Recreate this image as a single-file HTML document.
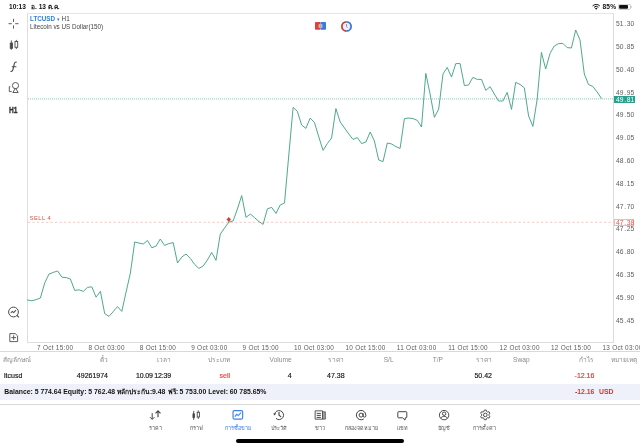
<!DOCTYPE html>
<html lang="th"><head><meta charset="utf-8"><title>LTCUSD</title>
<style>
html,body{margin:0;padding:0;background:#fff;}
body{width:640px;height:447px;overflow:hidden;position:relative;font-family:"Liberation Sans","Noto Sans CJK SC",sans-serif;color:#111;}
.abs{position:absolute;white-space:nowrap;}
.sb{position:absolute;top:2.5px;font-size:6.6px;font-weight:bold;line-height:8px;white-space:nowrap;color:#111;}
.pl i,.pb i{font-style:normal;margin:0 0.7px}
.pl{position:absolute;left:616px;font-size:6.7px;line-height:8px;letter-spacing:0.05px;color:#5c5c5c;white-space:nowrap;}
.tl{position:absolute;top:344.0px;font-size:6.4px;line-height:8px;letter-spacing:0.3px;color:#5c5c5c;white-space:nowrap;}
.th{position:absolute;top:354.5px;font-size:6.6px;line-height:9px;color:#8a8a8e;white-space:nowrap;}
.td{position:absolute;top:370.6px;font-size:7.0px;-webkit-text-stroke:0.15px currentColor;line-height:9px;color:#111;white-space:nowrap;}
.r{text-align:right;}
.bal{position:absolute;top:386.7px;font-size:6.85px;line-height:9px;font-weight:bold;color:#111;white-space:nowrap;}
.tab{position:absolute;top:409.1px;width:60px;text-align:center;}
.tab svg{display:block;margin:0 auto;}
.tlab{font-size:5.4px;line-height:8px;margin:2.6px auto 0;white-space:nowrap;overflow:hidden;text-align:center;}
</style></head><body>
<!-- status bar -->
<div class="sb" style="left:9px">10:13</div>
<div class="sb" style="left:31px;width:29.5px;overflow:hidden">อ. 13 ต.ค.</div>
<svg class="abs" style="left:592.3px;top:3.6px" width="8.4" height="6" viewBox="0 0 11 7.8"><path d="M5.5 7.6L3.9 5.7a2.3 2.3 0 0 1 3.2 0z" fill="#111"/><path d="M2.6 4.3a4.1 4.1 0 0 1 5.8 0" fill="none" stroke="#111" stroke-width="1.3"/><path d="M0.8 2.5a6.6 6.6 0 0 1 9.4 0" fill="none" stroke="#111" stroke-width="1.3"/></svg>
<div class="sb" style="left:602.5px;letter-spacing:0.150px">85%</div>
<svg class="abs" style="left:617.6px;top:3.9px" width="14.4" height="5.8" viewBox="0 0 14.4 5.8"><rect x="0.3" y="0.3" width="12.2" height="5.2" rx="1.5" fill="none" stroke="#999" stroke-width="0.5"/><rect x="1.1" y="1.050" width="8.9" height="3.7" rx="0.9" fill="#111"/><path d="M13 1.9v2c.7-.2.7-1.8 0-2z" fill="#999"/></svg>

<!-- chart frame -->
<div class="abs" style="left:27px;top:13px;width:587px;height:329.5px;border:0.8px solid #dedee1;border-top-color:#e6e6e6;box-sizing:border-box;border-right:1.3px solid #dcdcdc"></div>
<svg class="abs" style="left:0;top:0" width="640" height="447" viewBox="0 0 640 447">
<line x1="28" y1="98.9" x2="614" y2="98.9" stroke="#6dbfa9" stroke-width="0.8" stroke-dasharray="1 1"/>
<line x1="28" y1="222.3" x2="614" y2="222.3" stroke="#eeb0aa" stroke-width="0.7" stroke-dasharray="2.2 2.3"/>
<polyline points="27.6,300.0 31.9,300.8 36.2,299.6 40.4,298.0 44.7,283.0 49.0,274.0 53.3,272.4 57.6,271.0 61.9,277.2 66.1,277.6 70.4,279.0 74.7,290.4 79.0,289.8 83.3,291.4 87.5,287.4 91.8,286.8 96.1,297.2 100.4,291.4 104.7,313.6 109.0,316.4 113.2,311.6 117.5,306.6 121.8,311.4 126.1,292.0 130.4,273.0 134.7,242.0 138.9,243.0 143.2,244.0 147.5,240.5 151.8,247.8 156.1,246.0 160.3,239.0 164.6,245.4 168.9,243.6 173.2,242.6 177.5,263.0 181.8,257.0 186.0,254.0 190.3,258.4 194.6,264.4 198.9,268.4 203.2,266.0 207.4,260.0 211.7,252.4 216.0,260.4 220.3,234.0 224.6,228.0 228.9,222.0 233.1,221.0 237.4,209.0 241.7,195.6 246.0,217.4 250.3,214.0 254.5,217.6 258.8,221.4 263.1,224.4 267.4,208.8 271.7,207.4 276.0,213.4 280.2,205.0 284.5,203.0 288.8,155.0 293.1,107.4 297.4,111.4 301.6,125.0 305.9,128.4 310.2,118.0 314.5,122.6 318.8,137.0 323.1,150.4 327.3,143.6 331.6,138.0 335.9,108.6 340.2,122.0 344.5,128.0 348.8,134.0 353.0,139.4 357.3,137.6 361.6,143.6 365.9,142.0 370.2,132.0 374.4,141.0 378.7,160.0 383.0,161.6 387.3,143.0 391.6,144.0 395.9,146.6 400.1,148.4 404.4,118.6 408.7,118.0 413.0,118.6 417.3,120.4 421.5,127.0 425.8,73.4 430.1,94.0 434.4,117.4 438.7,109.0 443.0,74.0 447.2,67.4 451.5,77.0 455.8,63.6 460.1,63.6 464.4,85.6 468.6,85.0 472.9,77.4 477.2,79.4 481.5,79.4 485.8,90.4 490.1,86.6 494.3,94.0 498.6,101.0 502.9,101.0 507.2,92.4 511.5,109.4 515.7,82.4 520.0,84.4 524.3,87.8 528.6,116.0 532.9,126.4 537.2,99.0 541.4,52.4 545.7,69.0 550.0,53.5 554.3,46.0 558.6,43.6 562.9,43.4 567.1,47.6 571.4,48.0 575.7,30.0 580.0,40.0 584.3,74.0 588.5,84.5 592.8,86.4 597.1,92.0 601.4,98.3" fill="none" stroke="#46a388" stroke-width="0.950" stroke-linejoin="round" stroke-linecap="round"/>
<path d="M228.8 217.3l1.9 2.2-1.9 2.2-1.9-2.2z" fill="#d83a2b" stroke="#d83a2b" stroke-width="0.5" stroke-linejoin="round"/>
</svg>
<div class="abs" style="left:30px;top:15px;font-size:6.3px;line-height:8px;color:#444"><span style="color:#2f7de1;font-weight:bold">LTCUSD</span> <span style="color:#2f7de1;font-size:5px;position:relative;top:-0.5px">▾</span> H1</div>
<div class="abs" style="left:30px;top:23px;font-size:6.3px;line-height:8px;color:#444">Litecoin vs US Dollar(150)</div>
<div class="abs" style="left:29.5px;top:215px;font-size:5.9px;line-height:7px;letter-spacing:0.450px;color:#d9544a">SELL 4</div>

<!-- top icons -->
<svg class="abs" style="left:314px;top:21px" width="13" height="10" viewBox="0 0 13 10"><rect x="1" y="1" width="5.5" height="7.8" rx="0.7" fill="#d9453d"/><rect x="6.5" y="1" width="5.5" height="7.8" rx="0.7" fill="#3a7bd5"/><path d="M6.5 2.7a2.2 2.2 0 0 0 0 4.4z" fill="#eba9a3"/><path d="M6.5 2.7a2.2 2.2 0 0 1 0 4.4z" fill="#a6c2ec"/><circle cx="6.5" cy="4.9" r="0.9" fill="#b9a3bd"/></svg>
<svg class="abs" style="left:340px;top:19.5px" width="13" height="13" viewBox="0 0 13 13"><circle cx="6.5" cy="6.4" r="4" fill="#f1eff6"/><path d="M6.5 1.8a4.6 4.6 0 0 0 0 9.2" fill="none" stroke="#bd443e" stroke-width="1.8"/><path d="M6.5 1.8a4.6 4.6 0 0 1 0 9.2" fill="none" stroke="#3a7bd5" stroke-width="1.8"/><path d="M6.5 4v2.7l1.2.9" fill="none" stroke="#6f84c4" stroke-width="0.8"/></svg>

<!-- price scale -->
<div class="pl" style="top:20.0px">51<i>.</i>30</div><div class="pl" style="top:42.8px">50<i>.</i>85</div><div class="pl" style="top:65.6px">50<i>.</i>40</div><div class="pl" style="top:88.5px">49<i>.</i>95</div><div class="pl" style="top:111.3px">49<i>.</i>50</div><div class="pl" style="top:134.1px">49<i>.</i>05</div><div class="pl" style="top:156.9px">48<i>.</i>60</div><div class="pl" style="top:179.7px">48<i>.</i>15</div><div class="pl" style="top:202.6px">47<i>.</i>70</div><div class="pl" style="top:225.4px">47<i>.</i>25</div><div class="pl" style="top:248.2px">46<i>.</i>80</div><div class="pl" style="top:271.0px">46<i>.</i>35</div><div class="pl" style="top:293.8px">45<i>.</i>90</div><div class="pl" style="top:316.7px">45<i>.</i>45</div>
<div class="abs" style="left:614px;top:95.5px;width:20.7px;height:7.1px;background:#2b9e8e"></div>
<div class="abs" style="left:616px;top:96.1px;font-size:6.7px;line-height:8px;letter-spacing:0.050px;color:#fff">49<i style="font-style:normal;margin:0 0.7px">.</i>81</div>
<div class="abs" style="left:614.2px;top:218.8px;width:20.3px;height:7.1px;background:#fff;border:0.6px solid #efb8b3;box-sizing:border-box"></div>
<div class="abs" style="left:616px;top:219.3px;font-size:6.7px;line-height:8px;letter-spacing:0.050px;color:#e0574d">47<i style="font-style:normal;margin:0 0.7px">.</i>38</div>

<!-- time scale -->
<div class="tl" style="left:37.0px">7 Oct 15:00</div><div class="tl" style="left:88.4px">8 Oct 03:00</div><div class="tl" style="left:139.8px">8 Oct 15:00</div><div class="tl" style="left:191.2px">9 Oct 03:00</div><div class="tl" style="left:242.6px">9 Oct 15:00</div><div class="tl" style="left:294.0px">10 Oct 03:00</div><div class="tl" style="left:345.4px">10 Oct 15:00</div><div class="tl" style="left:396.8px">11 Oct 03:00</div><div class="tl" style="left:448.2px">11 Oct 15:00</div><div class="tl" style="left:499.6px">12 Oct 03:00</div><div class="tl" style="left:551.0px">12 Oct 15:00</div><div class="tl" style="left:602.4px">13 Oct 03:00</div>

<!-- left toolbar -->
<svg class="abs" style="left:0;top:13px" width="27" height="335" viewBox="0 13 27 335">
<g stroke="#4c4c4c" stroke-width="0.9" fill="none">
<path d="M13.5 18.8v3.2M13.5 25.4v3.2M8.5 23.7h3.3M15.2 23.7h3.3"/>
<path d="M11.350 40.4v9.4M16.350 39.9v9.1"/><rect x="10.250" y="43.1" width="2.2" height="5.2" fill="#4c4c4c"/><rect x="15" y="41.5" width="2.7" height="5.8" fill="#fff"/>
<path d="M10.5 71.3c1.6.6 2.3-.6 2.7-2.6l1-4.6c.4-1.6 1.2-2.3 2.5-1.8M11.8 66.7h4.6" stroke-width="1.150"/>
<circle cx="15.5" cy="85.6" r="3.1"/><path d="M15.5 88.1l2.7 4.4h-5.4z" fill="#fff"/><path d="M10.4 86.7h-1.1v4.9h2.4"/>
<circle cx="13.5" cy="312" r="4.9" stroke-width="1"/><path d="M10.7 313l1.6-1.6 1.4 1.2 2.3-2.5M17.1 315.5l1.9 1.8" stroke-width="1.050"/>
<path d="M9.8 333.6h5.4l2.4 2.3v5.7h-7.8z"/><path d="M13.7 335.2v4.8M11.3 337.6h4.8"/>
</g>
</svg>
<div class="abs" style="left:9px;top:104.6px;font-size:9.2px;line-height:10px;font-weight:bold;color:#333;-webkit-text-stroke:0.350px #333;transform:scaleX(0.72);transform-origin:0 0">H1</div>

<!-- table -->
<div class="abs" style="left:0;top:351.2px;width:640px;height:0.7px;background:#d9d9d9"></div>
<div class="th" style="left:3px;width:29px;overflow:hidden">สัญลักษณ์</div>
<div class="th r" style="right:532px;width:9px;overflow:hidden">ตั๋ว</div>
<div class="th r" style="right:469px;width:15px;overflow:hidden">เวลา</div>
<div class="th r" style="right:410px;width:23px;overflow:hidden">ประเภท</div>
<div class="th r" style="right:348.4px">Volume</div>
<div class="th r" style="right:296px;width:17px;overflow:hidden">ราคา</div>
<div class="th r" style="right:246.39999999999998px">S/L</div>
<div class="th r" style="right:197px">T/P</div>
<div class="th r" style="right:148px;width:17px;overflow:hidden">ราคา</div>
<div class="th r" style="right:110.39999999999998px">Swap</div>
<div class="th r" style="right:45.60000000000002px;width:16px;overflow:hidden">กำไร</div>
<div class="th r" style="right:3px;width:27px;overflow:hidden">หมายเหตุ</div>

<div class="td" style="left:4px">ltcusd</div>
<div class="td r" style="right:532px">49261974</div>
<div class="td r" style="right:469px"><span style="letter-spacing:-0.150px;word-spacing:-0.3px">10.09 12:39</span></div>
<div class="td r" style="right:410px;color:#e0483e">sell</div>
<div class="td r" style="right:348.4px">4</div>
<div class="td r" style="right:295.4px">47.38</div>
<div class="td r" style="right:148px">50.42</div>
<div class="td r" style="right:45.60000000000002px;color:#d8352c">-12.16</div>

<div class="abs" style="left:0;top:384px;width:640px;height:15.6px;background:#eef1f9"></div>
<div class="bal" style="left:4.3px">Balance: 5 774.64 Equity: 5 762.48</div>
<div class="bal" style="left:117px;width:34.5px;overflow:hidden;font-size:6.7px">หลักประกัน:</div>
<div class="bal" style="left:152px">9.48</div>
<div class="bal" style="left:168px;width:11px;overflow:hidden;font-size:6.5px">ฟรี:</div>
<div class="bal" style="left:179.6px">5 753.00 Level: 60 785.65%</div>
<div class="abs r" style="right:45.60000000000002px;top:386.7px;font-size:6.850px;line-height:9px;font-weight:bold;color:#d8352c">-12.16</div>
<div class="abs" style="left:599px;top:386.7px;font-size:6.850px;line-height:9px;font-weight:bold;color:#d8352c">USD</div>
<div class="abs" style="left:0;top:403.6px;width:640px;height:0.8px;background:#d9d9d9"></div>

<!-- tab bar -->
<div class="tab" style="left:125.2px;color:#555"><svg width="12" height="12" viewBox="0 0 12 12"><path d="M3.2 4.1v6M1 8.2l2.2 2.2 2.2-2.2" fill="none" stroke="#444" stroke-width="1"/><path d="M9 8.2V2.2M6.5 4.4L9 1.8l2.5 2.6" fill="none" stroke="#444" stroke-width="1.150"/></svg><div class="tlab" style="width:14px">ราคา</div></div><div class="tab" style="left:166.4px;color:#555"><svg width="12" height="12" viewBox="0 0 12 12"><path d="M3.7 1.9v9M8.3 1.4v8.5" stroke="#444" stroke-width="0.9"/><rect x="2.5" y="4.5" width="2.4" height="4.4" fill="#444"/><rect x="7.2" y="3.3" width="2.2" height="4.7" fill="#fff" stroke="#444" stroke-width="0.9"/></svg><div class="tlab" style="width:14px">กราฟ</div></div><div class="tab" style="left:207.6px;color:#3478f6"><svg width="12" height="12" viewBox="0 0 12 12"><rect x="1.050" y="1.650" width="9.6" height="8.4" rx="1.2" fill="none" stroke="#3a80f2" stroke-width="1.150"/><path d="M2.8 7.7l1.9-2.4 1.6 1.3 2.7-2.9" fill="none" stroke="#3a80f2" stroke-width="1.1"/></svg><div class="tlab" style="width:27px">การซื้อขาย</div></div><div class="tab" style="left:248.8px;color:#555"><svg width="12" height="12" viewBox="0 0 12 12"><path d="M1.6 5.4A4.5 4.5 0 1 1 3 9.4" fill="none" stroke="#444" stroke-width="1"/><path d="M0.1 4.4h3l-1.5 2.1z" fill="#444"/><path d="M6 3.1v3.2l2.1 1.6" fill="none" stroke="#444" stroke-width="1.150"/></svg><div class="tlab" style="width:17px">ประวัติ</div></div><div class="tab" style="left:290.0px;color:#555"><svg width="12" height="12" viewBox="0 0 12 12"><path d="M1.150 1.850h7.350v8.3h-7.350z" fill="none" stroke="#444" stroke-width="0.9"/><path d="M8.5 2.8h2.9v7.350h-2.9z" fill="#a0a0a0" stroke="#444" stroke-width="0.7"/><path d="M2.7 4.4h4.2M2.7 6.4h4.2M2.7 8.4h4.2" stroke="#333" stroke-width="0.9"/></svg><div class="tlab" style="width:11px">ข่าว</div></div><div class="tab" style="left:331.2px;color:#555"><svg width="12" height="12" viewBox="0 0 12 12"><circle cx="6.1" cy="6.1" r="2" fill="none" stroke="#444" stroke-width="1"/><path d="M8.1 4.1v2.7a1.350 1.350 0 0 0 2.7 0V6.1a4.7 4.7 0 1 0-2 3.850" fill="none" stroke="#444" stroke-width="1"/></svg><div class="tlab" style="width:34px">กล่องจดหมาย</div></div><div class="tab" style="left:372.4px;color:#555"><svg width="12" height="12" viewBox="0 0 12 12"><path d="M2.6 2.7h7.4a.8.8 0 0 1 .8.8v4.5a.8.8 0 0 1-.8.8H9.3l-.3 2.3-2.4-2.3H2.6a.8.8 0 0 1-.8-.8V3.5a.8.8 0 0 1 .8-.8z" fill="none" stroke="#444" stroke-width="1" stroke-linejoin="round"/></svg><div class="tlab" style="width:12px">แชท</div></div><div class="tab" style="left:413.6px;color:#555"><svg width="12" height="12" viewBox="0 0 12 12"><circle cx="6.1" cy="6.1" r="4.7" fill="none" stroke="#444" stroke-width="0.950"/><circle cx="6.1" cy="4.7" r="1.7" fill="none" stroke="#444" stroke-width="0.950"/><path d="M2.9 9.4c.6-1.5 1.8-2.1 3.2-2.1s2.6.6 3.2 2.1" fill="none" stroke="#444" stroke-width="0.950"/></svg><div class="tlab" style="width:13px">บัญชี</div></div><div class="tab" style="left:454.8px;color:#555"><svg width="12" height="12" viewBox="0 0 12 12"><path d="M5.03 2.42L5.37 1.09L7.23 1.09L7.57 2.42L8.68 3.07L10.00 2.69L10.93 4.30L9.94 5.26L9.94 6.54L10.93 7.50L10.00 9.11L8.68 8.73L7.57 9.38L7.23 10.71L5.37 10.71L5.03 9.38L3.92 8.73L2.60 9.11L1.67 7.50L2.66 6.54L2.66 5.26L1.67 4.30L2.60 2.69L3.92 3.07z" fill="none" stroke="#444" stroke-width="0.950" stroke-linejoin="round"/><circle cx="6.3" cy="5.9" r="1.8" fill="none" stroke="#444" stroke-width="0.950"/></svg><div class="tlab" style="width:24px">การตั้งค่า</div></div>
<div class="abs" style="left:236px;top:439.2px;width:168px;height:3.4px;border-radius:2px;background:#000"></div>
</body></html>
